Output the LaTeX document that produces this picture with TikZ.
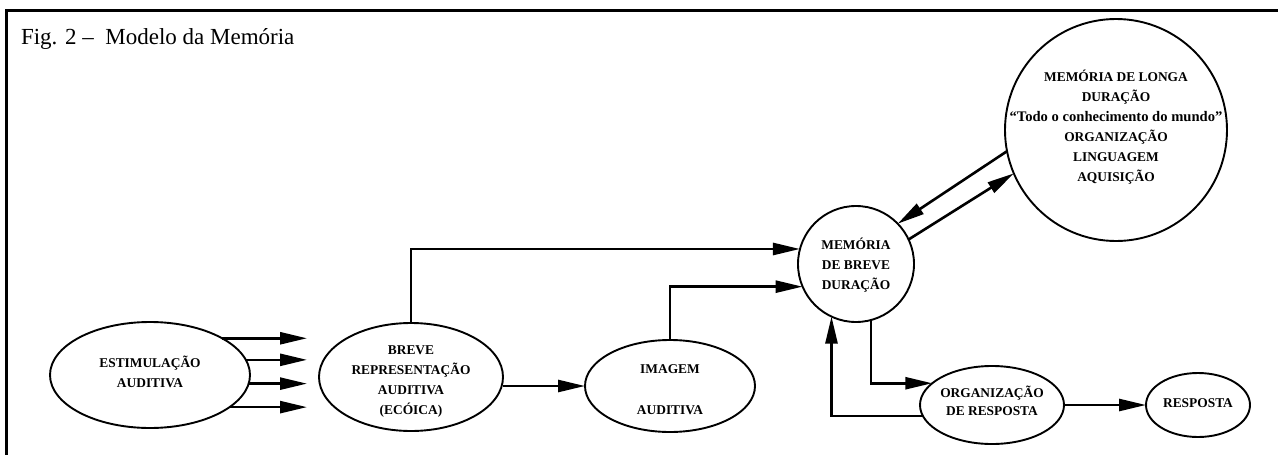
\documentclass[tikz,border=0pt]{standalone}
\usepackage{fontspec}
\setmainfont{Liberation Serif}
\usetikzlibrary{shapes.geometric,arrows.meta}
\begin{document}
\begin{tikzpicture}[x=1pt,y=-1pt,
  every node/.style={inner sep=0pt, outer sep=0pt},
  oval/.style={ellipse, draw, line width=1.9pt},
  circ/.style={circle, draw, line width=1.9pt},
  txt/.style={align=center, font=\bfseries\fontsize{13.4}{20}\selectfont},
  arr/.style={line width=2.6pt, -{Triangle[length=27pt,width=12pt]}},
  frameline/.style={line width=3pt}]
\useasboundingbox (0,0) rectangle (1278,455);
% frame
\draw[frameline] (6,455) -- (6,10) -- (1278,10);
% title
\node[anchor=base west, font=\fontsize{23}{27}\selectfont] (title) at (21,44) {Fig. 2 –\ \ Modelo da Memória};
% shapes
\node[oval, minimum width=200, minimum height=106] (est) at (150,375) {};
\node[txt] (estT) at (150,372) {ESTIMULAÇÃO\\AUDITIVA};
\node[oval, minimum width=184, minimum height=108] (brv) at (411,377) {};
\node[txt] (brvT) at (411,382) {BREVE\\REPRESENTAÇÃO\\AUDITIVA\\(ECÓICA)};
\node[oval, minimum width=170, minimum height=92] (img) at (670,386) {};
\node[txt] (imgT) at (670,390) {IMAGEM\\[21pt]AUDITIVA};
\node[circ, minimum size=116] (mbd) at (856,264) {};
\node[txt] (mbdT) at (856,265) {MEMÓRIA\\DE BREVE\\DURAÇÃO};
\node[circ, minimum size=222] (mld) at (1116,130) {};
\node[txt] (mldT) at (1116,127) {MEMÓRIA DE LONGA\\DURAÇÃO\\{\fontsize{14.6}{20}\selectfont “Todo o conhecimento do mundo”}\\ORGANIZAÇÃO\\LINGUAGEM\\AQUISIÇÃO};
\node[oval, minimum width=144, minimum height=78] (org) at (992,405) {};
\node[txt, font=\bfseries\fontsize{13.4}{18.5}\selectfont] (orgT) at (992,401) {ORGANIZAÇÃO\\DE RESPOSTA};
\node[oval, minimum width=104, minimum height=64] (rsp) at (1198,405) {};
\node[txt] (rspT) at (1198,403) {RESPOSTA};
% connectors
\coordinate (xin) at (307,0);
\draw[arr] (est.27) -- (est.27 -| xin);
\draw[arr] (est.9) -- (est.9 -| xin);
\draw[arr] (est.-5) -- (est.-5 -| xin);
\draw[arr] (est.-22) -- (est.-22 -| xin);
\draw[arr] (brv.north) |- (mbd.165);
\draw[arr] (brv.east |- img.west) -- (img.west);
\draw[arr] (img.north) |- (mbd.203);
\draw[arr] (mld.191) -- (mbd.44);
\draw[arr] (mbd.25) -- (mld.203);
\draw[arr] (mbd.-75) |- (org.160);
\draw[arr] (org.189) -| (mbd.245);
\draw[arr] (org.east) -- (rsp.west);
\end{tikzpicture}
\end{document}
